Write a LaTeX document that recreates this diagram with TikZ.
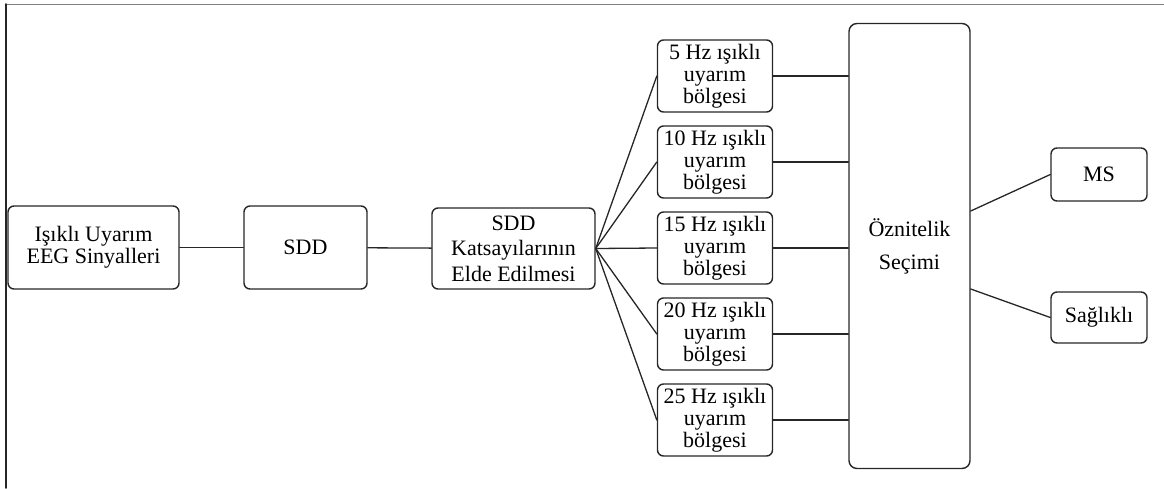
\documentclass[tikz,border=0pt]{standalone}
\usepackage{fontspec}
\setmainfont{Liberation Serif}
\newfontfamily\tnrfont{Liberation Serif}

\begin{document}
\begin{tikzpicture}[
  x=1pt,
  y=-1pt,
  line cap=round,
  line join=round,
  stage/.style={draw=black!85,rounded corners=6pt,line width=1.4pt,
    align=center,inner sep=0pt,font=\tnrfont\fontsize{22}{22}\selectfont},
  bandbox/.style={stage,minimum width=115pt,minimum height=72pt},
  link/.style={draw=black!85,line width=1.3pt}
]
  \useasboundingbox (0,0) rectangle (1164,488);
  % page edges seen in the scan
  \draw[black!50,line width=1.6pt] (6,4.5) -- (1164,4.5);
  \draw[black!85,line width=1.6pt] (6,4) -- (6,488);

  % left chain
  \node[stage,minimum width=171pt,minimum height=83pt]
    (sig) at (93.5,247.5) {Işıklı Uyarım\\EEG Sinyalleri};
  \node[stage,minimum width=123pt,minimum height=83pt]
    (sdd) at (305.5,247.5) {SDD};
  \node[stage,minimum width=163pt,minimum height=81pt,
    font=\tnrfont\fontsize{22}{25.5}\selectfont]
    (kat) at (513.5,248.5) {SDD\\Katsayılarının\\Elde Edilmesi};
  \draw[link] (sig) -- (sdd);
  \draw[link] (sdd) -- (kat);

  % feature selection
  \node[stage,rounded corners=8pt,minimum width=121pt,minimum height=445pt,
    font=\tnrfont\fontsize{22}{33}\selectfont]
    (oz) at (909.5,246) {Öznitelik\\Seçimi};

  % stimulation bands
  \foreach \k/\hz in {0/5,1/10,2/15,3/20,4/25} {
    \node[bandbox] (br\k) at (715,{76+86*\k})
      {\hz{} Hz ışıklı\\uyarım\\bölgesi};
    \draw[link] (kat.east) -- (br\k.west);
    \draw[link] (br\k.east) -- (br\k.east -| oz.west);
  }

  % classes
  \node[stage,minimum width=96pt,minimum height=53pt]
    (ms) at (1099,174.5) {MS};
  \node[stage,minimum width=96pt,minimum height=51pt]
    (sag) at (1099,317.5) {Sağlıklı};
  \coordinate (ozms) at ([yshift=35pt]oz.east);
  \coordinate (ozsag) at ([yshift=-43pt]oz.east);
  \draw[link] (ozms) -- (ms.west);
  \draw[link] (ozsag) -- (sag.west);
\end{tikzpicture}
\end{document}
